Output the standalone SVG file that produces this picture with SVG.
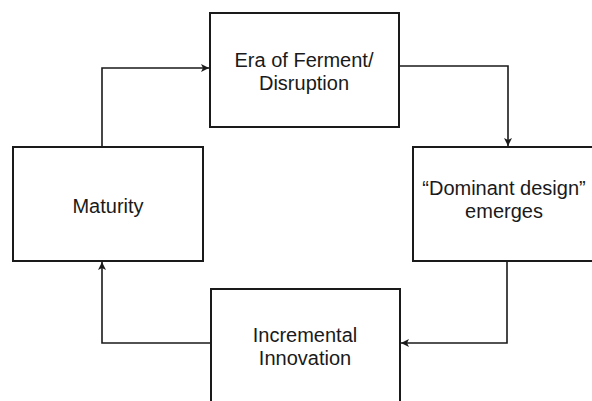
<svg xmlns="http://www.w3.org/2000/svg" width="592" height="401" viewBox="0 0 592 401">
<defs>
<marker id="arr" markerWidth="10" markerHeight="10" refX="9" refY="5" orient="auto" markerUnits="userSpaceOnUse">
<path d="M1,1 L9,5 L1,9 L3,5 Z" fill="#1a1a1a"/>
</marker>
<style>
.box{fill:#fff;stroke:#1a1a1a;stroke-width:2}
.lbl{font-family:"Liberation Sans",Arial,sans-serif;font-size:20px;fill:#1a1a1a;text-anchor:middle}
.con{fill:none;stroke:#1a1a1a;stroke-width:1.6;marker-end:url(#arr)}
</style>
</defs>
<rect width="592" height="401" fill="#fff"/>
<g id="connectors">
<path class="con" d="M102,147 V68 H209"/>
<path class="con" d="M399,66 H508 V146"/>
<path class="con" d="M507,261 V343 H401"/>
<path class="con" d="M211,343 H102 V262"/>
</g>
<g id="ferment">
<rect class="box" x="210" y="13" width="189" height="114"/>
<text class="lbl" x="304" y="67">Era of Ferment/</text>
<text class="lbl" x="304" y="90">Disruption</text>
</g>
<g id="maturity">
<rect class="box" x="13" y="147" width="190" height="114"/>
<text class="lbl" x="108" y="213">Maturity</text>
</g>
<g id="dominant">
<rect class="box" x="413" y="147" width="190" height="114"/>
<text class="lbl" x="504" y="195">“Dominant design”</text>
<text class="lbl" x="504" y="218">emerges</text>
</g>
<g id="incremental">
<rect class="box" x="211" y="289" width="189" height="130"/>
<text class="lbl" x="305" y="342">Incremental</text>
<text class="lbl" x="305" y="365">Innovation</text>
</g>
</svg>
